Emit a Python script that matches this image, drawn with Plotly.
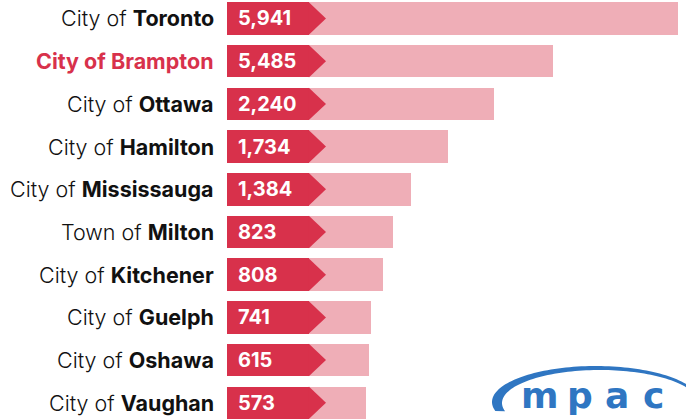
import numpy as np
import plotly.graph_objects as go

# ---- data ----
prefixes = ["City of", "City of", "City of", "City of", "City of",
            "Town of", "City of", "City of", "City of", "City of"]
names = ["Toronto", "Brampton", "Ottawa", "Hamilton", "Mississauga",
         "Milton", "Kitchener", "Guelph", "Oshawa", "Vaughan"]
values = [5941, 5485, 2240, 1734, 1384, 823, 808, 741, 615, 573]
# length of the pale bar, relative to the longest
bar_scale = [100, 72.3, 59.2, 49.0, 40.8, 36.8, 34.6, 31.9, 31.5, 30.8]
highlight = "Brampton"

RED = "#d8314b"
PINK = "#efaeb7"
BLUE = "#2f76c2"
W, H = 686, 419

BOX = 18.2     # red label box length (x units)
TIP = 21.95    # arrow tip
BW = 0.76      # bar thickness

idx = list(range(len(names)))

fig = go.Figure()
fig.add_trace(go.Bar(y=idx, x=bar_scale, orientation="h", width=BW,
                     marker=dict(color=PINK, line=dict(width=0)),
                     hoverinfo="skip"))
fig.add_trace(go.Bar(y=idx, x=[BOX] * len(idx), orientation="h", width=BW,
                     marker=dict(color=RED, line=dict(width=0)),
                     hoverinfo="skip"))

shapes = []
annotations = []
for i, (p, n, v) in enumerate(zip(prefixes, names, values)):
    y0, y1 = i - BW / 2, i + BW / 2
    shapes.append(dict(type="path", xref="x", yref="y",
                       path=f"M {BOX-0.05},{y0} L {TIP},{i} L {BOX-0.05},{y1} Z",
                       fillcolor=RED, line=dict(width=0)))
    annotations.append(dict(x=2.0, y=i, xref="x", yref="y", xanchor="left",
                            yanchor="middle", showarrow=False,
                            text=f"<b>{v:,}</b>",
                            font=dict(family="Inter", size=20, color="white")))
    if n == highlight:
        txt = f"<b>{p} {n}</b>"
        col = RED
    else:
        txt = f"{p} <b>{n}</b>"
        col = "#111111"
    annotations.append(dict(x=216 / W, y=i, xref="paper", yref="y", xanchor="right",
                            yanchor="middle", showarrow=False, text=txt,
                            font=dict(family="Inter", size=21.5, color=col,
                                      weight=300)))

# ---- mpac logo (decoration) ----
def px(x):
    return x / W

def py(y):
    return 1 - y / H

t = np.linspace(np.pi * 0.92, np.pi * 1.88, 80)
ox = 596 + 104 * np.cos(t); oy = 402 + 36 * np.sin(t)
ix = 600 + 98 * np.cos(t[::-1]); iy = 403 + 33 * np.sin(t[::-1])
pts = [f"{px(a):.5f},{py(b):.5f}" for a, b in zip(np.r_[ox, ix], np.r_[oy, iy])]
shapes.append(dict(type="path", xref="paper", yref="paper",
                   path="M " + " L ".join(pts) + " Z",
                   fillcolor=BLUE, line=dict(width=0), layer="above"))
for ch, cx in zip("mpac", [539.5, 580, 617, 653.5]):
    annotations.append(dict(x=px(cx), y=py(395), xref="paper", yref="paper",
                            xanchor="center", yanchor="middle", showarrow=False,
                            text=f"<b>{ch}</b>",
                            font=dict(family="DejaVu Sans", size=36, color=BLUE)))

fig.update_layout(
    width=W, height=H,
    margin=dict(l=0, r=0, t=0, b=0),
    paper_bgcolor="white", plot_bgcolor="white",
    barmode="overlay", showlegend=False, bargap=0,
    xaxis=dict(domain=[227 / W, 678 / W], range=[0, 100], visible=False,
               fixedrange=True),
    yaxis=dict(range=[9.38, -0.433], visible=False, fixedrange=True),
    shapes=shapes, annotations=annotations,
)

fig.write_html("out.html")
